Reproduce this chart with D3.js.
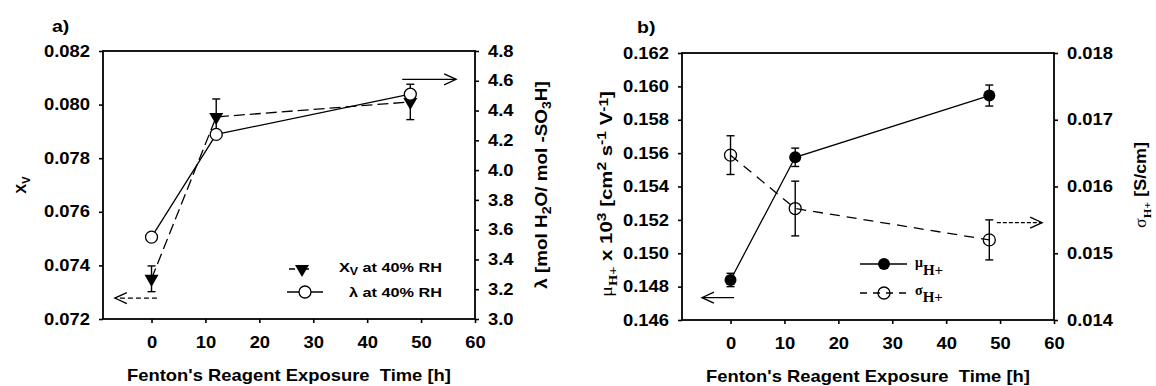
<!DOCTYPE html>
<html>
<head>
<meta charset="utf-8">
<script src="https://cdn.jsdelivr.net/npm/d3@7"></script>
<style>
  body { margin: 0; background: #fff; }
  svg text { font-family: "Liberation Sans", Arial, sans-serif; font-weight: bold; fill: #000; }
  svg .serif { font-family: "Liberation Serif", "Times New Roman", serif; }
</style>
</head>
<body>
<svg id="chart" width="1156" height="386"></svg>
<script>
// ---- data ----
const hours = [0, 12, 48];

// panel a: water volume fraction and water uptake at 40% RH
const xvValues = [0.07350, 0.07954, 0.08010];
const xvErrors = [0.00048, 0.00067, 0.00066];
const lambdaValues = [3.55, 4.24, 4.51];

// panel b: proton mobility and proton conductivity
const muValues = [0.1484, 0.15575, 0.15945];
const muErrors = [0.0004, 0.00055, 0.00063];
const sigmaValues = [0.01647, 0.01567, 0.01520];
const sigmaErrors = [0.00029, 0.00041, 0.00030];

// axis ticks
const timeTicks = [0, 10, 20, 30, 40, 50, 60];
const xvTicks = [0.072, 0.074, 0.076, 0.078, 0.080, 0.082];
const lambdaTicks = [3.0, 3.2, 3.4, 3.6, 3.8, 4.0, 4.2, 4.4, 4.6, 4.8];
const muTicks = [0.146, 0.148, 0.150, 0.152, 0.154, 0.156, 0.158, 0.160, 0.162];
const sigmaTicks = [0.014, 0.015, 0.016, 0.017, 0.018];

// arrows pointing to the axis each series belongs to: [t from, t to, value]
const arrowXv = [1.0, -6.8, 0.07278];
const arrowLambda = [46.5, 56.5, 4.61];
const arrowMu = [0.65, -5.3, 0.14734];
const arrowSigma = [49.4, 57.8, 0.015458];

const svg = d3.select("#chart");
const WIDE = 1.15;

function stretch(sel, k, origin) {
  sel.style("transform-box", "fill-box")
     .style("transform-origin", origin)
     .style("transform", `scaleX(${k})`);
}

function styleAxis(g, origin) {
  g.select(".domain").remove();
  g.attr("font-size", 16).attr("font-family", null);
  g.selectAll(".tick line").attr("stroke", "#000").attr("stroke-width", 1.6);
  stretch(g.selectAll(".tick text"), WIDE, origin);
}

function frame(x, yL, yR, ticksL, fmtL, ticksR, fmtR) {
  const [x0, x1] = x.range();
  const [yb, yt] = yL.range();
  svg.append("g").attr("transform", `translate(${x0},0)`)
    .call(d3.axisLeft(yL).tickValues(ticksL).tickFormat(d3.format(fmtL)).tickSize(4).tickPadding(9))
    .call(g => styleAxis(g, "100% 50%"));
  svg.append("g").attr("transform", `translate(${x1},0)`)
    .call(d3.axisRight(yR).tickValues(ticksR).tickFormat(d3.format(fmtR)).tickSize(4).tickPadding(9))
    .call(g => styleAxis(g, "0% 50%"));
  svg.append("g").attr("transform", `translate(0,${yb})`)
    .call(d3.axisBottom(x).tickValues(timeTicks).tickFormat(d3.format("d")).tickSize(4).tickPadding(14))
    .call(g => styleAxis(g, "50% 50%"));
  svg.append("rect")
    .attr("x", x0).attr("y", yt).attr("width", x1 - x0).attr("height", yb - yt)
    .attr("fill", "none").attr("stroke", "#000").attr("stroke-width", 1.8);
  // x axis title
  const t = svg.append("text")
    .attr("x", (x0 + x1) / 2).attr("y", yb + 62)
    .attr("text-anchor", "middle").attr("font-size", 16)
    .text("Fenton's Reagent Exposure\u00a0 Time [h]");
  stretch(t, WIDE, "50% 50%");
}

function seriesLine(x, y, vals, dash) {
  svg.append("path")
    .datum(hours.map((t, i) => [t, vals[i]]))
    .attr("fill", "none").attr("stroke", "#000").attr("stroke-width", 1.3)
    .attr("stroke-dasharray", dash)
    .attr("d", d3.line().x(d => x(d[0])).y(d => y(d[1])));
}

function errorBars(x, y, vals, errs) {
  const g = svg.append("g").attr("stroke", "#000").attr("stroke-width", 1.4);
  hours.forEach((t, i) => {
    const cx = x(t), lo = y(vals[i] - errs[i]), hi = y(vals[i] + errs[i]);
    g.append("line").attr("x1", cx).attr("x2", cx).attr("y1", lo).attr("y2", hi);
    g.append("line").attr("x1", cx - 4).attr("x2", cx + 4).attr("y1", lo).attr("y2", lo);
    g.append("line").attr("x1", cx - 4).attr("x2", cx + 4).attr("y1", hi).attr("y2", hi);
  });
}

function arrow(x, y, spec, dash) {
  const [tFrom, tTo, v] = spec;
  const xa = x(tFrom), xb = x(tTo), yy = y(v);
  const dir = xb > xa ? 1 : -1;
  svg.append("line")
    .attr("x1", xa).attr("x2", xb).attr("y1", yy).attr("y2", yy)
    .attr("stroke", "#000").attr("stroke-width", 1.3).attr("stroke-dasharray", dash);
  svg.append("path")
    .attr("d", `M${xb - dir * 12},${yy - 5.5}L${xb},${yy}L${xb - dir * 12},${yy + 5.5}`)
    .attr("fill", "none").attr("stroke", "#000").attr("stroke-width", 1.3);
}

const triangleDown = d3.symbol(d3.symbolTriangle, 85);

// ================= panel a =================
const xA = d3.scaleLinear([-9, 60], [103, 475]);
const yXv = d3.scaleLinear([0.072, 0.082], [319, 51]);
const yLam = d3.scaleLinear([3.0, 4.8], [319, 51]);

frame(xA, yXv, yLam, xvTicks, ".3f", lambdaTicks, ".1f");

seriesLine(xA, yLam, lambdaValues, null);
seriesLine(xA, yXv, xvValues, "11,5");
errorBars(xA, yXv, xvValues, xvErrors);

svg.append("g").selectAll("path").data(hours).join("path")
  .attr("transform", (t, i) => `translate(${xA(t)},${yXv(xvValues[i])}) rotate(180)`)
  .attr("d", triangleDown).attr("fill", "#000");
svg.append("g").selectAll("circle").data(hours).join("circle")
  .attr("cx", t => xA(t)).attr("cy", (t, i) => yLam(lambdaValues[i])).attr("r", 6)
  .attr("fill", "#fff").attr("stroke", "#000").attr("stroke-width", 1.3);

arrow(xA, yXv, arrowXv, "5,3");
arrow(xA, yLam, arrowLambda, null);

// legend a
{
  const lg = svg.append("g");
  lg.append("line").attr("x1", 289).attr("x2", 317).attr("y1", 269).attr("y2", 269)
    .attr("stroke", "#000").attr("stroke-width", 1.3).attr("stroke-dasharray", "6,8");
  lg.append("path").attr("transform", "translate(302,269) rotate(180)")
    .attr("d", triangleDown).attr("fill", "#000");
  lg.append("line").attr("x1", 287).attr("x2", 323).attr("y1", 292).attr("y2", 292)
    .attr("stroke", "#000").attr("stroke-width", 1.3);
  lg.append("circle").attr("cx", 305).attr("cy", 292).attr("r", 6)
    .attr("fill", "#fff").attr("stroke", "#000").attr("stroke-width", 1.3);
  const t1 = lg.append("text").attr("x", 442).attr("y", 272).attr("text-anchor", "end").attr("font-size", 13);
  t1.append("tspan").text("X");
  t1.append("tspan").attr("font-size", 10).attr("dy", 3).text("V");
  t1.append("tspan").attr("dy", -3).text(" at 40% RH");
  stretch(t1, 1.25, "100% 50%");
  const t2 = lg.append("text").attr("x", 442).attr("y", 297).attr("text-anchor", "end").attr("font-size", 13)
    .text("\u03bb at 40% RH");
  stretch(t2, 1.25, "100% 50%");
}

// axis titles a
{
  const tl = svg.append("text").attr("x", 52).attr("y", 32).attr("font-size", 17).text("a)");
  stretch(tl, WIDE, "0% 50%");

  const gl = svg.append("g").attr("transform", "translate(26,185) rotate(-90)");
  const l = gl.append("text").attr("text-anchor", "middle").attr("font-size", 15).attr("font-weight", "normal");
  l.append("tspan").text("X");
  l.append("tspan").attr("font-size", 11).attr("dy", 4).text("V");

  const gr = svg.append("g").attr("transform", "translate(547,185) rotate(-90)");
  const r = gr.append("text").attr("text-anchor", "middle").attr("font-size", 16);
  r.append("tspan").text("\u03bb [mol H");
  r.append("tspan").attr("font-size", 12).attr("dy", 4).text("2");
  r.append("tspan").attr("dy", -4).text("O/ mol -SO");
  r.append("tspan").attr("font-size", 12).attr("dy", 4).text("3");
  r.append("tspan").attr("dy", -4).text("H]");
  stretch(r, 1.18, "50% 50%");
}

// ================= panel b =================
const xB = d3.scaleLinear([-9, 60], [682, 1054]);
const yMu = d3.scaleLinear([0.146, 0.162], [320, 53]);
const ySig = d3.scaleLinear([0.014, 0.018], [320, 53]);

frame(xB, yMu, ySig, muTicks, ".3f", sigmaTicks, ".3f");

seriesLine(xB, yMu, muValues, null);
seriesLine(xB, ySig, sigmaValues, "10,7");
errorBars(xB, yMu, muValues, muErrors);
errorBars(xB, ySig, sigmaValues, sigmaErrors);

svg.append("g").selectAll("circle").data(hours).join("circle")
  .attr("cx", t => xB(t)).attr("cy", (t, i) => yMu(muValues[i])).attr("r", 6)
  .attr("fill", "#000");
svg.append("g").selectAll("circle").data(hours).join("circle")
  .attr("cx", t => xB(t)).attr("cy", (t, i) => ySig(sigmaValues[i])).attr("r", 6)
  .attr("fill", "none").attr("stroke", "#000").attr("stroke-width", 1.3);

arrow(xB, yMu, arrowMu, null);
arrow(xB, ySig, arrowSigma, "4,2");

// legend b
{
  const lg = svg.append("g");
  lg.append("line").attr("x1", 860).attr("x2", 907).attr("y1", 264).attr("y2", 264)
    .attr("stroke", "#000").attr("stroke-width", 1.3);
  lg.append("circle").attr("cx", 884).attr("cy", 264).attr("r", 6).attr("fill", "#000");
  lg.append("line").attr("x1", 860).attr("x2", 907).attr("y1", 293).attr("y2", 293)
    .attr("stroke", "#000").attr("stroke-width", 1.3).attr("stroke-dasharray", "7,6");
  lg.append("circle").attr("cx", 884).attr("cy", 293).attr("r", 6)
    .attr("fill", "none").attr("stroke", "#000").attr("stroke-width", 1.3);

  const m = lg.append("text").attr("class", "serif").attr("x", 915).attr("y", 267).attr("font-size", 14).attr("font-weight", "normal");
  m.append("tspan").text("\u03bc");
  m.append("tspan").attr("dy", 8).attr("font-weight", "bold").attr("font-size", 15).text("H+");
  const s = lg.append("text").attr("class", "serif").attr("x", 915).attr("y", 295).attr("font-size", 14).attr("font-weight", "normal");
  s.append("tspan").text("\u03c3");
  s.append("tspan").attr("dy", 7).attr("font-weight", "bold").attr("font-size", 15).text("H+");
}

// axis titles b
{
  const tl = svg.append("text").attr("x", 637).attr("y", 33).attr("font-size", 17).text("b)");
  stretch(tl, WIDE, "0% 50%");

  const gl = svg.append("g").attr("transform", "translate(612,194) rotate(-90)");
  const l = gl.append("text").attr("text-anchor", "middle").attr("font-size", 17);
  l.append("tspan").attr("class", "serif").attr("font-weight", "normal").text("\u03bc");
  l.append("tspan").attr("class", "serif").attr("font-size", 12).attr("dy", 5).text("H+");
  l.append("tspan").attr("dy", -5).text(" x 10");
  l.append("tspan").attr("font-size", 13).attr("dy", -6).text("3");
  l.append("tspan").attr("dy", 6).text(" [cm");
  l.append("tspan").attr("font-size", 13).attr("dy", -6).text("2");
  l.append("tspan").attr("dy", 6).text(" s");
  l.append("tspan").attr("font-size", 13).attr("dy", -6).text("-1");
  l.append("tspan").attr("dy", 6).text(" V");
  l.append("tspan").attr("font-size", 13).attr("dy", -4).text("-1");
  l.append("tspan").attr("dy", 4).text("]");
  stretch(l, 1.2, "50% 50%");

  const gr = svg.append("g").attr("transform", "translate(1146,185) rotate(-90)");
  const r = gr.append("text").attr("text-anchor", "middle").attr("font-size", 16);
  r.append("tspan").attr("class", "serif").attr("font-weight", "normal").text("\u03c3");
  r.append("tspan").attr("class", "serif").attr("font-size", 11).attr("dy", 5).text("H+");
  r.append("tspan").attr("dy", -5).text(" [S/cm]");
  stretch(r, 1.12, "50% 50%");
}
</script>
</body>
</html>
